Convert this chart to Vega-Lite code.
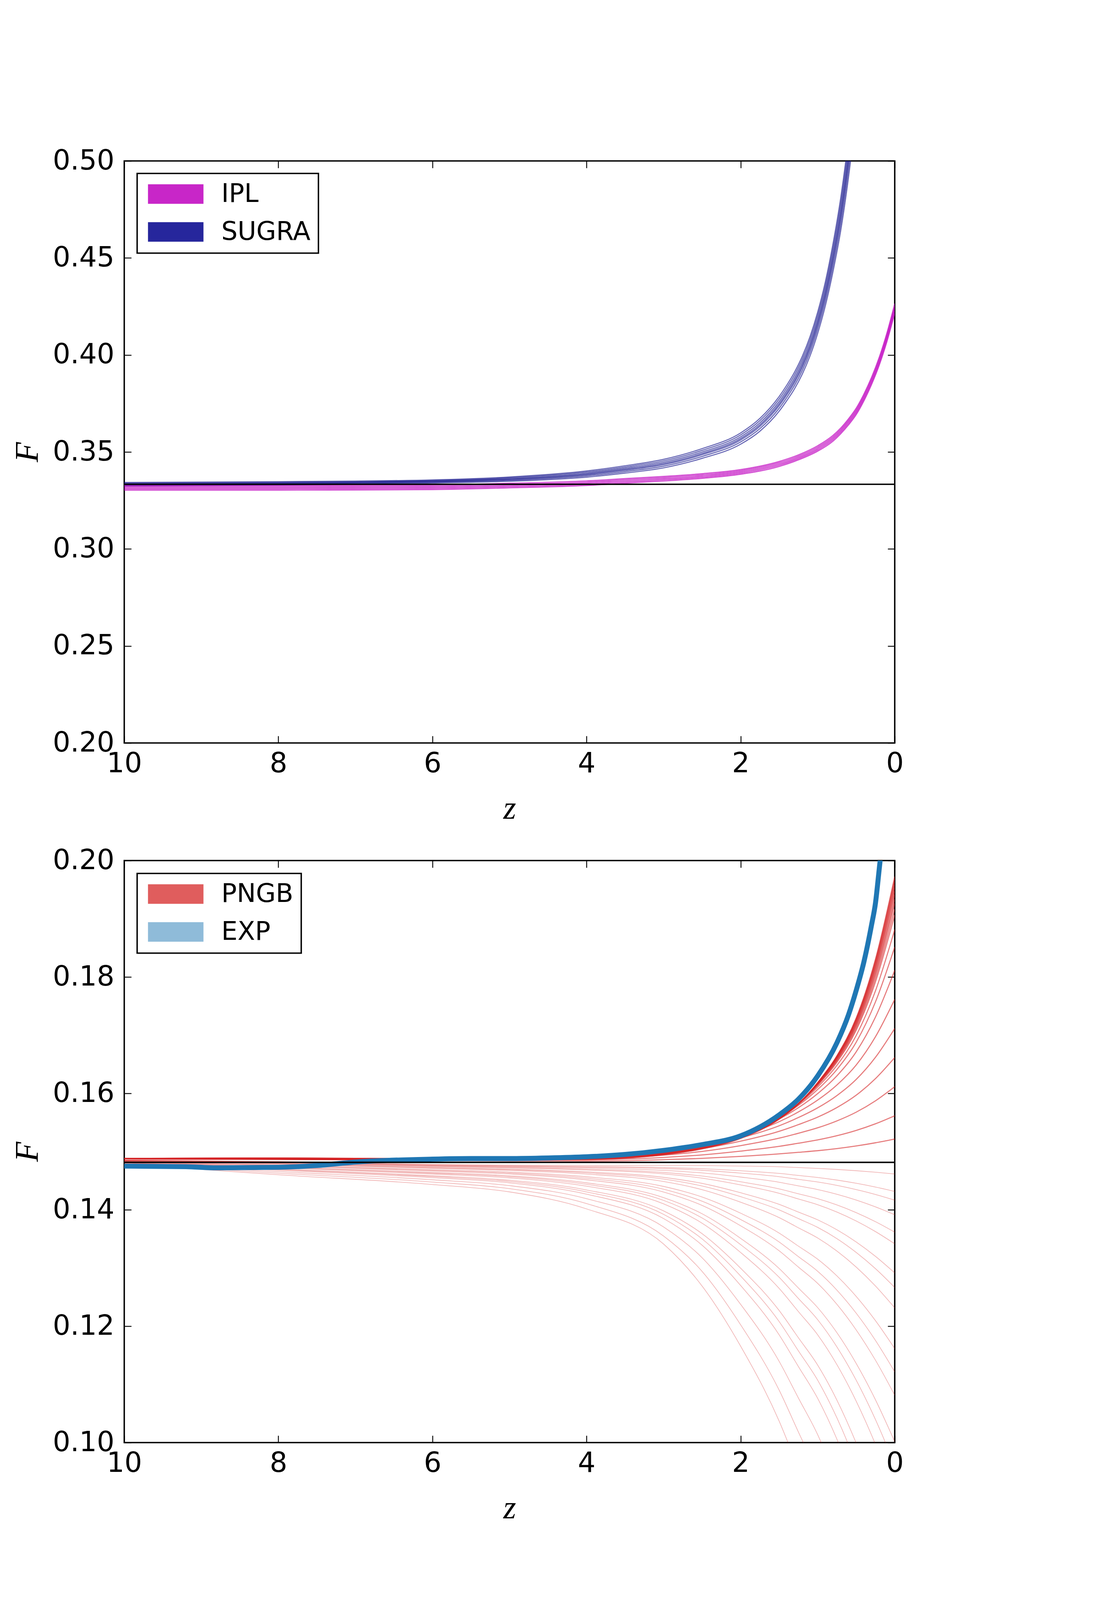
{
"$schema": "https://vega.github.io/schema/vega-lite/v6.json",
"background": "white",
"padding": {"left": 27, "top": 374, "right": 200, "bottom": 100},
"config": {
  "font": "DejaVu Sans",
  "view": {"stroke": "black", "strokeWidth": 3.6},
  "axis": {"domain": false, "grid": false, "ticks": true, "tickColor": "black", "tickWidth": 2.3, "tickSize": -18,
    "labelFont": "DejaVu Sans", "labelFontSize": 71, "labelColor": "black", "labelFlush": false, "labelOverlap": false, "labelBound": false,
    "titleFont": "Liberation Serif", "titleFontStyle": "italic", "titleFontWeight": "normal", "titleFontSize": 84, "titleColor": "black"},
  "legend": {"strokeColor": "black", "strokeWidth": 3.6, "fillColor": "white", "cornerRadius": 0, "padding": 20, "labelLimit": 1000}
},
"datasets": {
"sugra": [
{"m":"S1","z":10,"F":0.3325},{"m":"S1","z":9,"F":0.3327},{"m":"S1","z":8,"F":0.3329},{"m":"S1","z":7,"F":0.3334},{"m":"S1","z":6,"F":0.334},{"m":"S1","z":5,"F":0.3349},{"m":"S1","z":4,"F":0.337},{"m":"S1","z":3.5,"F":0.3391},{"m":"S1","z":3,"F":0.3418},{"m":"S1","z":2.5,"F":0.3467},{"m":"S1","z":2,"F":0.354},{"m":"S1","z":1.75,"F":0.3607},{"m":"S1","z":1.5,"F":0.371},{"m":"S1","z":1.4,"F":0.3765},{"m":"S1","z":1.3,"F":0.3826},{"m":"S1","z":1.2,"F":0.3901},{"m":"S1","z":1.1,"F":0.3994},{"m":"S1","z":1,"F":0.4111},{"m":"S1","z":0.9,"F":0.4254},{"m":"S1","z":0.8,"F":0.4432},{"m":"S1","z":0.7,"F":0.4643},{"m":"S1","z":0.6,"F":0.4915},{"m":"S1","z":0.5,"F":0.525},
{"m":"S2","z":10,"F":0.33286},{"m":"S2","z":9,"F":0.33306},{"m":"S2","z":8,"F":0.33326},{"m":"S2","z":7,"F":0.33372},{"m":"S2","z":6,"F":0.33432},{"m":"S2","z":5,"F":0.33534},{"m":"S2","z":4,"F":0.33764},{"m":"S2","z":3.5,"F":0.33986},{"m":"S2","z":3,"F":0.34268},{"m":"S2","z":2.5,"F":0.3477},{"m":"S2","z":2,"F":0.35516},{"m":"S2","z":1.75,"F":0.36202},{"m":"S2","z":1.5,"F":0.37252},{"m":"S2","z":1.4,"F":0.3781},{"m":"S2","z":1.3,"F":0.38432},{"m":"S2","z":1.2,"F":0.39194},{"m":"S2","z":1.1,"F":0.4014},{"m":"S2","z":1,"F":0.4133},{"m":"S2","z":0.9,"F":0.42788},{"m":"S2","z":0.8,"F":0.44608},{"m":"S2","z":0.7,"F":0.4677},{"m":"S2","z":0.6,"F":0.4955},{"m":"S2","z":0.5,"F":0.5298},
{"m":"S3","z":10,"F":0.33318},{"m":"S3","z":9,"F":0.33338},{"m":"S3","z":8,"F":0.33358},{"m":"S3","z":7,"F":0.334},{"m":"S3","z":6,"F":0.3346},{"m":"S3","z":5,"F":0.33573},{"m":"S3","z":4,"F":0.3382},{"m":"S3","z":3.5,"F":0.34053},{"m":"S3","z":3,"F":0.34345},{"m":"S3","z":2.5,"F":0.34858},{"m":"S3","z":2,"F":0.35618},{"m":"S3","z":1.75,"F":0.36318},{"m":"S3","z":1.5,"F":0.37385},{"m":"S3","z":1.4,"F":0.3795},{"m":"S3","z":1.3,"F":0.38583},{"m":"S3","z":1.2,"F":0.39355},{"m":"S3","z":1.1,"F":0.40315},{"m":"S3","z":1,"F":0.41523},{"m":"S3","z":0.9,"F":0.43005},{"m":"S3","z":0.8,"F":0.4486},{"m":"S3","z":0.7,"F":0.47068},{"m":"S3","z":0.6,"F":0.499},{"m":"S3","z":0.5,"F":0.534},
{"m":"S4","z":10,"F":0.3334},{"m":"S4","z":9,"F":0.3336},{"m":"S4","z":8,"F":0.3338},{"m":"S4","z":7,"F":0.3342},{"m":"S4","z":6,"F":0.3348},{"m":"S4","z":5,"F":0.336},{"m":"S4","z":4,"F":0.3386},{"m":"S4","z":3.5,"F":0.341},{"m":"S4","z":3,"F":0.344},{"m":"S4","z":2.5,"F":0.3492},{"m":"S4","z":2,"F":0.3569},{"m":"S4","z":1.75,"F":0.364},{"m":"S4","z":1.5,"F":0.3748},{"m":"S4","z":1.4,"F":0.3805},{"m":"S4","z":1.3,"F":0.3869},{"m":"S4","z":1.2,"F":0.3947},{"m":"S4","z":1.1,"F":0.4044},{"m":"S4","z":1,"F":0.4166},{"m":"S4","z":0.9,"F":0.4316},{"m":"S4","z":0.8,"F":0.4504},{"m":"S4","z":0.7,"F":0.4728},{"m":"S4","z":0.6,"F":0.5015},{"m":"S4","z":0.5,"F":0.537},
{"m":"S5","z":10,"F":0.33367},{"m":"S5","z":9,"F":0.33387},{"m":"S5","z":8,"F":0.33407},{"m":"S5","z":7,"F":0.33444},{"m":"S5","z":6,"F":0.33504},{"m":"S5","z":5,"F":0.33633},{"m":"S5","z":4,"F":0.33908},{"m":"S5","z":3.5,"F":0.34157},{"m":"S5","z":3,"F":0.34466},{"m":"S5","z":2.5,"F":0.34995},{"m":"S5","z":2,"F":0.35777},{"m":"S5","z":1.75,"F":0.36499},{"m":"S5","z":1.5,"F":0.37594},{"m":"S5","z":1.4,"F":0.3817},{"m":"S5","z":1.3,"F":0.38819},{"m":"S5","z":1.2,"F":0.39608},{"m":"S5","z":1.1,"F":0.4059},{"m":"S5","z":1,"F":0.41825},{"m":"S5","z":0.9,"F":0.43346},{"m":"S5","z":0.8,"F":0.45256},{"m":"S5","z":0.7,"F":0.47535},{"m":"S5","z":0.6,"F":0.5045},{"m":"S5","z":0.5,"F":0.5406},
{"m":"S6","z":10,"F":0.33399},{"m":"S6","z":9,"F":0.33419},{"m":"S6","z":8,"F":0.33439},{"m":"S6","z":7,"F":0.33472},{"m":"S6","z":6,"F":0.33532},{"m":"S6","z":5,"F":0.33672},{"m":"S6","z":4,"F":0.33964},{"m":"S6","z":3.5,"F":0.34224},{"m":"S6","z":3,"F":0.34543},{"m":"S6","z":2.5,"F":0.35083},{"m":"S6","z":2,"F":0.35879},{"m":"S6","z":1.75,"F":0.36615},{"m":"S6","z":1.5,"F":0.37727},{"m":"S6","z":1.4,"F":0.3831},{"m":"S6","z":1.3,"F":0.3897},{"m":"S6","z":1.2,"F":0.39769},{"m":"S6","z":1.1,"F":0.40765},{"m":"S6","z":1,"F":0.42018},{"m":"S6","z":0.9,"F":0.43563},{"m":"S6","z":0.8,"F":0.45508},{"m":"S6","z":0.7,"F":0.47833},{"m":"S6","z":0.6,"F":0.508},{"m":"S6","z":0.5,"F":0.5448},
{"m":"S7","z":10,"F":0.3343},{"m":"S7","z":9,"F":0.3345},{"m":"S7","z":8,"F":0.3347},{"m":"S7","z":7,"F":0.335},{"m":"S7","z":6,"F":0.3356},{"m":"S7","z":5,"F":0.3371},{"m":"S7","z":4,"F":0.3402},{"m":"S7","z":3.5,"F":0.3429},{"m":"S7","z":3,"F":0.3462},{"m":"S7","z":2.5,"F":0.3517},{"m":"S7","z":2,"F":0.3598},{"m":"S7","z":1.75,"F":0.3673},{"m":"S7","z":1.5,"F":0.3786},{"m":"S7","z":1.4,"F":0.3845},{"m":"S7","z":1.3,"F":0.3912},{"m":"S7","z":1.2,"F":0.3993},{"m":"S7","z":1.1,"F":0.4094},{"m":"S7","z":1,"F":0.4221},{"m":"S7","z":0.9,"F":0.4378},{"m":"S7","z":0.8,"F":0.4576},{"m":"S7","z":0.7,"F":0.4813},{"m":"S7","z":0.6,"F":0.5115},{"m":"S7","z":0.5,"F":0.549}
],
"ipl": [
{"m":"I1","z":10,"F":0.3303},{"m":"I1","z":9,"F":0.3303},{"m":"I1","z":8,"F":0.3303},{"m":"I1","z":7,"F":0.3304},{"m":"I1","z":6,"F":0.3306},{"m":"I1","z":5,"F":0.3315},{"m":"I1","z":4,"F":0.3327},{"m":"I1","z":3.5,"F":0.3339},{"m":"I1","z":3,"F":0.335},{"m":"I1","z":2.5,"F":0.3364},{"m":"I1","z":2,"F":0.3385},{"m":"I1","z":1.5,"F":0.3425},{"m":"I1","z":1.25,"F":0.3459},{"m":"I1","z":1,"F":0.3504},{"m":"I1","z":0.8,"F":0.3556},{"m":"I1","z":0.7,"F":0.3594},{"m":"I1","z":0.6,"F":0.3639},{"m":"I1","z":0.5,"F":0.3692},{"m":"I1","z":0.4,"F":0.3763},{"m":"I1","z":0.3,"F":0.3848},{"m":"I1","z":0.2,"F":0.3948},{"m":"I1","z":0.1,"F":0.407},{"m":"I1","z":0,"F":0.4215},
{"m":"I2","z":10,"F":0.3309},{"m":"I2","z":9,"F":0.3309},{"m":"I2","z":8,"F":0.3309},{"m":"I2","z":7,"F":0.331},{"m":"I2","z":6,"F":0.3312},{"m":"I2","z":5,"F":0.3321},{"m":"I2","z":4,"F":0.3333},{"m":"I2","z":3.5,"F":0.3345},{"m":"I2","z":3,"F":0.3356},{"m":"I2","z":2.5,"F":0.337},{"m":"I2","z":2,"F":0.3391},{"m":"I2","z":1.5,"F":0.34315},{"m":"I2","z":1.25,"F":0.34655},{"m":"I2","z":1,"F":0.3511},{"m":"I2","z":0.8,"F":0.35635},{"m":"I2","z":0.7,"F":0.36015},{"m":"I2","z":0.6,"F":0.3647},{"m":"I2","z":0.5,"F":0.37005},{"m":"I2","z":0.4,"F":0.3772},{"m":"I2","z":0.3,"F":0.38575},{"m":"I2","z":0.2,"F":0.39585},{"m":"I2","z":0.1,"F":0.40815},{"m":"I2","z":0,"F":0.42275},
{"m":"I3","z":10,"F":0.3315},{"m":"I3","z":9,"F":0.3315},{"m":"I3","z":8,"F":0.3315},{"m":"I3","z":7,"F":0.3316},{"m":"I3","z":6,"F":0.3318},{"m":"I3","z":5,"F":0.3327},{"m":"I3","z":4,"F":0.3339},{"m":"I3","z":3.5,"F":0.3351},{"m":"I3","z":3,"F":0.3362},{"m":"I3","z":2.5,"F":0.3376},{"m":"I3","z":2,"F":0.3397},{"m":"I3","z":1.5,"F":0.3438},{"m":"I3","z":1.25,"F":0.3472},{"m":"I3","z":1,"F":0.3518},{"m":"I3","z":0.8,"F":0.3571},{"m":"I3","z":0.7,"F":0.3609},{"m":"I3","z":0.6,"F":0.3655},{"m":"I3","z":0.5,"F":0.3709},{"m":"I3","z":0.4,"F":0.3781},{"m":"I3","z":0.3,"F":0.3867},{"m":"I3","z":0.2,"F":0.3969},{"m":"I3","z":0.1,"F":0.4093},{"m":"I3","z":0,"F":0.424},
{"m":"I4","z":10,"F":0.3321},{"m":"I4","z":9,"F":0.3321},{"m":"I4","z":8,"F":0.3321},{"m":"I4","z":7,"F":0.3322},{"m":"I4","z":6,"F":0.3324},{"m":"I4","z":5,"F":0.3333},{"m":"I4","z":4,"F":0.3345},{"m":"I4","z":3.5,"F":0.3357},{"m":"I4","z":3,"F":0.3368},{"m":"I4","z":2.5,"F":0.3382},{"m":"I4","z":2,"F":0.3403},{"m":"I4","z":1.5,"F":0.34445},{"m":"I4","z":1.25,"F":0.34785},{"m":"I4","z":1,"F":0.3525},{"m":"I4","z":0.8,"F":0.35785},{"m":"I4","z":0.7,"F":0.36165},{"m":"I4","z":0.6,"F":0.3663},{"m":"I4","z":0.5,"F":0.37175},{"m":"I4","z":0.4,"F":0.379},{"m":"I4","z":0.3,"F":0.38765},{"m":"I4","z":0.2,"F":0.39795},{"m":"I4","z":0.1,"F":0.41045},{"m":"I4","z":0,"F":0.42525},
{"m":"I5","z":10,"F":0.3327},{"m":"I5","z":9,"F":0.3327},{"m":"I5","z":8,"F":0.3327},{"m":"I5","z":7,"F":0.3328},{"m":"I5","z":6,"F":0.333},{"m":"I5","z":5,"F":0.3339},{"m":"I5","z":4,"F":0.3351},{"m":"I5","z":3.5,"F":0.3363},{"m":"I5","z":3,"F":0.3374},{"m":"I5","z":2.5,"F":0.3388},{"m":"I5","z":2,"F":0.3409},{"m":"I5","z":1.5,"F":0.3451},{"m":"I5","z":1.25,"F":0.3485},{"m":"I5","z":1,"F":0.3532},{"m":"I5","z":0.8,"F":0.3586},{"m":"I5","z":0.7,"F":0.3624},{"m":"I5","z":0.6,"F":0.3671},{"m":"I5","z":0.5,"F":0.3726},{"m":"I5","z":0.4,"F":0.3799},{"m":"I5","z":0.3,"F":0.3886},{"m":"I5","z":0.2,"F":0.399},{"m":"I5","z":0.1,"F":0.4116},{"m":"I5","z":0,"F":0.4265}
],
"pngb": [
{"m":"U1","z":10,"F":0.14875},{"m":"U1","z":8,"F":0.14865},{"m":"U1","z":6,"F":0.14855},{"m":"U1","z":5,"F":0.14855},{"m":"U1","z":4,"F":0.14864},{"m":"U1","z":3,"F":0.14945},{"m":"U1","z":2.5,"F":0.15046},{"m":"U1","z":2,"F":0.15225},{"m":"U1","z":1.5,"F":0.15556},{"m":"U1","z":1.25,"F":0.15817},{"m":"U1","z":1,"F":0.16185},{"m":"U1","z":0.75,"F":0.16646},{"m":"U1","z":0.5,"F":0.17295},{"m":"U1","z":0.25,"F":0.18306},{"m":"U1","z":0,"F":0.19725},
{"m":"U2","z":10,"F":0.14876},{"m":"U2","z":8,"F":0.14867},{"m":"U2","z":6,"F":0.14857},{"m":"U2","z":5,"F":0.14857},{"m":"U2","z":4,"F":0.14868},{"m":"U2","z":3,"F":0.14951},{"m":"U2","z":2.5,"F":0.15053},{"m":"U2","z":2,"F":0.15234},{"m":"U2","z":1.5,"F":0.15563},{"m":"U2","z":1.25,"F":0.1582},{"m":"U2","z":1,"F":0.16181},{"m":"U2","z":0.75,"F":0.16634},{"m":"U2","z":0.5,"F":0.17268},{"m":"U2","z":0.25,"F":0.18254},{"m":"U2","z":0,"F":0.19635},
{"m":"U3","z":10,"F":0.14876},{"m":"U3","z":8,"F":0.14869},{"m":"U3","z":6,"F":0.14859},{"m":"U3","z":5,"F":0.1486},{"m":"U3","z":4,"F":0.14872},{"m":"U3","z":3,"F":0.14957},{"m":"U3","z":2.5,"F":0.15061},{"m":"U3","z":2,"F":0.15243},{"m":"U3","z":1.5,"F":0.1557},{"m":"U3","z":1.25,"F":0.15823},{"m":"U3","z":1,"F":0.16176},{"m":"U3","z":0.75,"F":0.16619},{"m":"U3","z":0.5,"F":0.17238},{"m":"U3","z":0.25,"F":0.18197},{"m":"U3","z":0,"F":0.19535},
{"m":"U4","z":10,"F":0.14877},{"m":"U4","z":8,"F":0.14871},{"m":"U4","z":6,"F":0.14861},{"m":"U4","z":5,"F":0.14863},{"m":"U4","z":4,"F":0.14877},{"m":"U4","z":3,"F":0.14964},{"m":"U4","z":2.5,"F":0.1507},{"m":"U4","z":2,"F":0.15253},{"m":"U4","z":1.5,"F":0.15576},{"m":"U4","z":1.25,"F":0.15825},{"m":"U4","z":1,"F":0.16168},{"m":"U4","z":0.75,"F":0.166},{"m":"U4","z":0.5,"F":0.172},{"m":"U4","z":0.25,"F":0.18126},{"m":"U4","z":0,"F":0.19415},
{"m":"U5","z":10,"F":0.14878},{"m":"U5","z":8,"F":0.14873},{"m":"U5","z":6,"F":0.14864},{"m":"U5","z":5,"F":0.14866},{"m":"U5","z":4,"F":0.14883},{"m":"U5","z":3,"F":0.14972},{"m":"U5","z":2.5,"F":0.1508},{"m":"U5","z":2,"F":0.15265},{"m":"U5","z":1.5,"F":0.15583},{"m":"U5","z":1.25,"F":0.15826},{"m":"U5","z":1,"F":0.16157},{"m":"U5","z":0.75,"F":0.16574},{"m":"U5","z":0.5,"F":0.17152},{"m":"U5","z":0.25,"F":0.18037},{"m":"U5","z":0,"F":0.19265},
{"m":"U6","z":10,"F":0.14878},{"m":"U6","z":8,"F":0.14876},{"m":"U6","z":6,"F":0.14867},{"m":"U6","z":5,"F":0.1487},{"m":"U6","z":4,"F":0.14889},{"m":"U6","z":3,"F":0.14981},{"m":"U6","z":2.5,"F":0.15091},{"m":"U6","z":2,"F":0.15276},{"m":"U6","z":1.5,"F":0.15587},{"m":"U6","z":1.25,"F":0.15822},{"m":"U6","z":1,"F":0.16138},{"m":"U6","z":0.75,"F":0.16535},{"m":"U6","z":0.5,"F":0.17084},{"m":"U6","z":0.25,"F":0.17916},{"m":"U6","z":0,"F":0.19065},
{"m":"U7","z":10,"F":0.14879},{"m":"U7","z":8,"F":0.1488},{"m":"U7","z":6,"F":0.1487},{"m":"U7","z":5,"F":0.14874},{"m":"U7","z":4,"F":0.14896},{"m":"U7","z":3,"F":0.1499},{"m":"U7","z":2.5,"F":0.15101},{"m":"U7","z":2,"F":0.15287},{"m":"U7","z":1.5,"F":0.15589},{"m":"U7","z":1.25,"F":0.15813},{"m":"U7","z":1,"F":0.16109},{"m":"U7","z":0.75,"F":0.16482},{"m":"U7","z":0.5,"F":0.16994},{"m":"U7","z":0.25,"F":0.17762},{"m":"U7","z":0,"F":0.18815},
{"m":"U8","z":10,"F":0.14881},{"m":"U8","z":8,"F":0.14883},{"m":"U8","z":6,"F":0.14874},{"m":"U8","z":5,"F":0.14878},{"m":"U8","z":4,"F":0.14902},{"m":"U8","z":3,"F":0.14998},{"m":"U8","z":2.5,"F":0.1511},{"m":"U8","z":2,"F":0.15294},{"m":"U8","z":1.5,"F":0.15582},{"m":"U8","z":1.25,"F":0.15794},{"m":"U8","z":1,"F":0.16067},{"m":"U8","z":0.75,"F":0.16411},{"m":"U8","z":0.5,"F":0.16879},{"m":"U8","z":0.25,"F":0.17572},{"m":"U8","z":0,"F":0.18515},
{"m":"U9","z":10,"F":0.14882},{"m":"U9","z":8,"F":0.14887},{"m":"U9","z":6,"F":0.14876},{"m":"U9","z":5,"F":0.14882},{"m":"U9","z":4,"F":0.14907},{"m":"U9","z":3,"F":0.15004},{"m":"U9","z":2.5,"F":0.15114},{"m":"U9","z":2,"F":0.15292},{"m":"U9","z":1.5,"F":0.15561},{"m":"U9","z":1.25,"F":0.15754},{"m":"U9","z":1,"F":0.15996},{"m":"U9","z":0.75,"F":0.16302},{"m":"U9","z":0.5,"F":0.16714},{"m":"U9","z":0.25,"F":0.17311},{"m":"U9","z":0,"F":0.18115},
{"m":"U10","z":10,"F":0.14882},{"m":"U10","z":8,"F":0.14889},{"m":"U10","z":6,"F":0.14877},{"m":"U10","z":5,"F":0.14883},{"m":"U10","z":4,"F":0.14909},{"m":"U10","z":3,"F":0.15001},{"m":"U10","z":2.5,"F":0.15106},{"m":"U10","z":2,"F":0.15273},{"m":"U10","z":1.5,"F":0.15513},{"m":"U10","z":1.25,"F":0.15681},{"m":"U10","z":1,"F":0.15885},{"m":"U10","z":0.75,"F":0.16144},{"m":"U10","z":0.5,"F":0.16487},{"m":"U10","z":0.25,"F":0.16973},{"m":"U10","z":0,"F":0.17615},
{"m":"U11","z":10,"F":0.14882},{"m":"U11","z":8,"F":0.1489},{"m":"U11","z":6,"F":0.14876},{"m":"U11","z":5,"F":0.1488},{"m":"U11","z":4,"F":0.14905},{"m":"U11","z":3,"F":0.1499},{"m":"U11","z":2.5,"F":0.15086},{"m":"U11","z":2,"F":0.15235},{"m":"U11","z":1.5,"F":0.15443},{"m":"U11","z":1.25,"F":0.15585},{"m":"U11","z":1,"F":0.15752},{"m":"U11","z":0.75,"F":0.15963},{"m":"U11","z":0.5,"F":0.1624},{"m":"U11","z":0.25,"F":0.1662},{"m":"U11","z":0,"F":0.17115},
{"m":"U12","z":10,"F":0.14882},{"m":"U12","z":8,"F":0.14888},{"m":"U12","z":6,"F":0.14872},{"m":"U12","z":5,"F":0.14875},{"m":"U12","z":4,"F":0.14896},{"m":"U12","z":3,"F":0.14969},{"m":"U12","z":2.5,"F":0.15051},{"m":"U12","z":2,"F":0.15178},{"m":"U12","z":1.5,"F":0.15348},{"m":"U12","z":1.25,"F":0.15463},{"m":"U12","z":1,"F":0.15592},{"m":"U12","z":0.75,"F":0.15757},{"m":"U12","z":0.5,"F":0.15969},{"m":"U12","z":0.25,"F":0.16253},{"m":"U12","z":0,"F":0.16615},
{"m":"U13","z":10,"F":0.14881},{"m":"U13","z":8,"F":0.14884},{"m":"U13","z":6,"F":0.14865},{"m":"U13","z":5,"F":0.14865},{"m":"U13","z":4,"F":0.14881},{"m":"U13","z":3,"F":0.14939},{"m":"U13","z":2.5,"F":0.15003},{"m":"U13","z":2,"F":0.15102},{"m":"U13","z":1.5,"F":0.1523},{"m":"U13","z":1.25,"F":0.15315},{"m":"U13","z":1,"F":0.15408},{"m":"U13","z":0.75,"F":0.15527},{"m":"U13","z":0.5,"F":0.15677},{"m":"U13","z":0.25,"F":0.15872},{"m":"U13","z":0,"F":0.16115},
{"m":"U14","z":10,"F":0.14879},{"m":"U14","z":8,"F":0.14878},{"m":"U14","z":6,"F":0.14856},{"m":"U14","z":5,"F":0.14853},{"m":"U14","z":4,"F":0.1486},{"m":"U14","z":3,"F":0.14899},{"m":"U14","z":2.5,"F":0.14942},{"m":"U14","z":2,"F":0.15007},{"m":"U14","z":1.5,"F":0.15089},{"m":"U14","z":1.25,"F":0.15143},{"m":"U14","z":1,"F":0.152},{"m":"U14","z":0.75,"F":0.15272},{"m":"U14","z":0.5,"F":0.15363},{"m":"U14","z":0.25,"F":0.15477},{"m":"U14","z":0,"F":0.15615},
{"m":"U15","z":10,"F":0.14877},{"m":"U15","z":8,"F":0.14872},{"m":"U15","z":6,"F":0.14846},{"m":"U15","z":5,"F":0.1484},{"m":"U15","z":4,"F":0.14839},{"m":"U15","z":3,"F":0.1486},{"m":"U15","z":2.5,"F":0.14883},{"m":"U15","z":2,"F":0.14917},{"m":"U15","z":1.5,"F":0.1496},{"m":"U15","z":1.25,"F":0.14987},{"m":"U15","z":1,"F":0.15015},{"m":"U15","z":0.75,"F":0.15051},{"m":"U15","z":0.5,"F":0.15096},{"m":"U15","z":0.25,"F":0.15151},{"m":"U15","z":0,"F":0.15215},
{"m":"U16","z":10,"F":0.14875},{"m":"U16","z":8,"F":0.14866},{"m":"U16","z":6,"F":0.14856},{"m":"U16","z":5,"F":0.14856},{"m":"U16","z":4,"F":0.14866},{"m":"U16","z":3,"F":0.14948},{"m":"U16","z":2.5,"F":0.15049},{"m":"U16","z":2,"F":0.15229},{"m":"U16","z":1.5,"F":0.15559},{"m":"U16","z":1.25,"F":0.15818},{"m":"U16","z":1,"F":0.16183},{"m":"U16","z":0.75,"F":0.16641},{"m":"U16","z":0.5,"F":0.17283},{"m":"U16","z":0.25,"F":0.18283},{"m":"U16","z":0,"F":0.19685},
{"m":"U17","z":10,"F":0.14876},{"m":"U17","z":8,"F":0.14868},{"m":"U17","z":6,"F":0.14858},{"m":"U17","z":5,"F":0.14858},{"m":"U17","z":4,"F":0.1487},{"m":"U17","z":3,"F":0.14954},{"m":"U17","z":2.5,"F":0.15057},{"m":"U17","z":2,"F":0.15239},{"m":"U17","z":1.5,"F":0.15566},{"m":"U17","z":1.25,"F":0.15822},{"m":"U17","z":1,"F":0.16179},{"m":"U17","z":0.75,"F":0.16626},{"m":"U17","z":0.5,"F":0.17253},{"m":"U17","z":0.25,"F":0.18225},{"m":"U17","z":0,"F":0.19585},
{"m":"U18","z":10,"F":0.14876},{"m":"U18","z":8,"F":0.1487},{"m":"U18","z":6,"F":0.1486},{"m":"U18","z":5,"F":0.14861},{"m":"U18","z":4,"F":0.14875},{"m":"U18","z":3,"F":0.14961},{"m":"U18","z":2.5,"F":0.15066},{"m":"U18","z":2,"F":0.15248},{"m":"U18","z":1.5,"F":0.15573},{"m":"U18","z":1.25,"F":0.15824},{"m":"U18","z":1,"F":0.16172},{"m":"U18","z":0.75,"F":0.1661},{"m":"U18","z":0.5,"F":0.17219},{"m":"U18","z":0.25,"F":0.18161},{"m":"U18","z":0,"F":0.19475},
{"m":"U19","z":10,"F":0.14877},{"m":"U19","z":8,"F":0.14872},{"m":"U19","z":6,"F":0.14862},{"m":"U19","z":5,"F":0.14864},{"m":"U19","z":4,"F":0.1488},{"m":"U19","z":3,"F":0.14968},{"m":"U19","z":2.5,"F":0.15075},{"m":"U19","z":2,"F":0.15259},{"m":"U19","z":1.5,"F":0.1558},{"m":"U19","z":1.25,"F":0.15825},{"m":"U19","z":1,"F":0.16163},{"m":"U19","z":0.75,"F":0.16586},{"m":"U19","z":0.5,"F":0.17175},{"m":"U19","z":0.25,"F":0.18079},{"m":"U19","z":0,"F":0.19335},
{"m":"U20","z":10,"F":0.14878},{"m":"U20","z":8,"F":0.14875},{"m":"U20","z":6,"F":0.14865},{"m":"U20","z":5,"F":0.14868},{"m":"U20","z":4,"F":0.14886},{"m":"U20","z":3,"F":0.14977},{"m":"U20","z":2.5,"F":0.15086},{"m":"U20","z":2,"F":0.15271},{"m":"U20","z":1.5,"F":0.15586},{"m":"U20","z":1.25,"F":0.15824},{"m":"U20","z":1,"F":0.16148},{"m":"U20","z":0.75,"F":0.16555},{"m":"U20","z":0.5,"F":0.17118},{"m":"U20","z":0.25,"F":0.17977},{"m":"U20","z":0,"F":0.19165},
{"m":"L1","z":10,"F":0.14854},{"m":"L1","z":8,"F":0.14831},{"m":"L1","z":6,"F":0.14779},{"m":"L1","z":5,"F":0.14767},{"m":"L1","z":4,"F":0.14762},{"m":"L1","z":3,"F":0.14761},{"m":"L1","z":2.5,"F":0.14759},{"m":"L1","z":2,"F":0.14751},{"m":"L1","z":1.5,"F":0.14739},{"m":"L1","z":1.25,"F":0.14725},{"m":"L1","z":1,"F":0.14711},{"m":"L1","z":0.75,"F":0.14693},{"m":"L1","z":0.5,"F":0.14671},{"m":"L1","z":0.25,"F":0.14645},{"m":"L1","z":0,"F":0.14615},
{"m":"L2","z":10,"F":0.14852},{"m":"L2","z":8,"F":0.14825},{"m":"L2","z":6,"F":0.1477},{"m":"L2","z":5,"F":0.14755},{"m":"L2","z":4,"F":0.14743},{"m":"L2","z":3,"F":0.14725},{"m":"L2","z":2.5,"F":0.14705},{"m":"L2","z":2,"F":0.1467},{"m":"L2","z":1.5,"F":0.14625},{"m":"L2","z":1.25,"F":0.1459},{"m":"L2","z":1,"F":0.14555},{"m":"L2","z":0.75,"F":0.1451},{"m":"L2","z":0.5,"F":0.14455},{"m":"L2","z":0.25,"F":0.1439},{"m":"L2","z":0,"F":0.14315},
{"m":"L3","z":10,"F":0.1485},{"m":"L3","z":8,"F":0.14817},{"m":"L3","z":6,"F":0.14758},{"m":"L3","z":5,"F":0.14739},{"m":"L3","z":4,"F":0.14717},{"m":"L3","z":3,"F":0.14677},{"m":"L3","z":2.5,"F":0.14633},{"m":"L3","z":2,"F":0.14562},{"m":"L3","z":1.5,"F":0.14473},{"m":"L3","z":1.25,"F":0.1441},{"m":"L3","z":1,"F":0.14347},{"m":"L3","z":0.75,"F":0.14266},{"m":"L3","z":0.5,"F":0.14167},{"m":"L3","z":0.25,"F":0.1405},{"m":"L3","z":0,"F":0.13915},
{"m":"L4","z":10,"F":0.14847},{"m":"L4","z":8,"F":0.14807},{"m":"L4","z":6,"F":0.14743},{"m":"L4","z":5,"F":0.14719},{"m":"L4","z":4,"F":0.14684},{"m":"L4","z":3,"F":0.14617},{"m":"L4","z":2.5,"F":0.14543},{"m":"L4","z":2,"F":0.14427},{"m":"L4","z":1.5,"F":0.14283},{"m":"L4","z":1.25,"F":0.14185},{"m":"L4","z":1,"F":0.14087},{"m":"L4","z":0.75,"F":0.13961},{"m":"L4","z":0.5,"F":0.13807},{"m":"L4","z":0.25,"F":0.13625},{"m":"L4","z":0,"F":0.13415},
{"m":"L5","z":10,"F":0.14844},{"m":"L5","z":8,"F":0.14797},{"m":"L5","z":6,"F":0.14728},{"m":"L5","z":5,"F":0.14699},{"m":"L5","z":4,"F":0.14652},{"m":"L5","z":3,"F":0.14557},{"m":"L5","z":2.5,"F":0.14453},{"m":"L5","z":2,"F":0.14292},{"m":"L5","z":1.5,"F":0.14093},{"m":"L5","z":1.25,"F":0.1396},{"m":"L5","z":1,"F":0.13827},{"m":"L5","z":0.75,"F":0.13656},{"m":"L5","z":0.5,"F":0.13447},{"m":"L5","z":0.25,"F":0.132},{"m":"L5","z":0,"F":0.12915},
{"m":"L6","z":10,"F":0.1484},{"m":"L6","z":8,"F":0.14785},{"m":"L6","z":6,"F":0.1471},{"m":"L6","z":5,"F":0.14675},{"m":"L6","z":4,"F":0.14613},{"m":"L6","z":3,"F":0.14485},{"m":"L6","z":2.5,"F":0.14345},{"m":"L6","z":2,"F":0.1413},{"m":"L6","z":1.5,"F":0.13865},{"m":"L6","z":1.25,"F":0.1369},{"m":"L6","z":1,"F":0.13515},{"m":"L6","z":0.75,"F":0.1329},{"m":"L6","z":0.5,"F":0.13015},{"m":"L6","z":0.25,"F":0.1269},{"m":"L6","z":0,"F":0.12315},
{"m":"L7","z":10,"F":0.14836},{"m":"L7","z":8,"F":0.14771},{"m":"L7","z":6,"F":0.14689},{"m":"L7","z":5,"F":0.14647},{"m":"L7","z":4,"F":0.14567},{"m":"L7","z":3,"F":0.14401},{"m":"L7","z":2.5,"F":0.14219},{"m":"L7","z":2,"F":0.13941},{"m":"L7","z":1.5,"F":0.13599},{"m":"L7","z":1.25,"F":0.13375},{"m":"L7","z":1,"F":0.13151},{"m":"L7","z":0.75,"F":0.12863},{"m":"L7","z":0.5,"F":0.12511},{"m":"L7","z":0.25,"F":0.12095},{"m":"L7","z":0,"F":0.11615},
{"m":"L8","z":10,"F":0.14831},{"m":"L8","z":8,"F":0.14755},{"m":"L8","z":6,"F":0.14665},{"m":"L8","z":5,"F":0.14615},{"m":"L8","z":4,"F":0.14515},{"m":"L8","z":3,"F":0.14305},{"m":"L8","z":2.5,"F":0.14075},{"m":"L8","z":2,"F":0.13725},{"m":"L8","z":1.5,"F":0.13295},{"m":"L8","z":1.25,"F":0.13015},{"m":"L8","z":1,"F":0.12735},{"m":"L8","z":0.75,"F":0.12375},{"m":"L8","z":0.5,"F":0.11935},{"m":"L8","z":0.25,"F":0.11415},{"m":"L8","z":0,"F":0.10815},
{"m":"L9","z":10,"F":0.14826},{"m":"L9","z":8,"F":0.14739},{"m":"L9","z":6,"F":0.14641},{"m":"L9","z":5,"F":0.14583},{"m":"L9","z":4,"F":0.14463},{"m":"L9","z":3,"F":0.14209},{"m":"L9","z":2.5,"F":0.13931},{"m":"L9","z":2,"F":0.13509},{"m":"L9","z":1.5,"F":0.12991},{"m":"L9","z":1.25,"F":0.12655},{"m":"L9","z":1,"F":0.12319},{"m":"L9","z":0.75,"F":0.11887},{"m":"L9","z":0.5,"F":0.11359},{"m":"L9","z":0.25,"F":0.10735},{"m":"L9","z":0,"F":0.10015},
{"m":"L10","z":10,"F":0.14821},{"m":"L10","z":8,"F":0.14721},{"m":"L10","z":6,"F":0.14614},{"m":"L10","z":5,"F":0.14547},{"m":"L10","z":4,"F":0.14405},{"m":"L10","z":3,"F":0.14101},{"m":"L10","z":2.5,"F":0.13769},{"m":"L10","z":2,"F":0.13266},{"m":"L10","z":1.5,"F":0.12649},{"m":"L10","z":1.25,"F":0.1225},{"m":"L10","z":1,"F":0.11851},{"m":"L10","z":0.75,"F":0.11338},{"m":"L10","z":0.5,"F":0.10711},{"m":"L10","z":0.25,"F":0.0997},{"m":"L10","z":0,"F":0.09115},
{"m":"L11","z":10,"F":0.14815},{"m":"L11","z":8,"F":0.14701},{"m":"L11","z":6,"F":0.14584},{"m":"L11","z":5,"F":0.14507},{"m":"L11","z":4,"F":0.1434},{"m":"L11","z":3,"F":0.13981},{"m":"L11","z":2.5,"F":0.13589},{"m":"L11","z":2,"F":0.12996},{"m":"L11","z":1.5,"F":0.12269},{"m":"L11","z":1.25,"F":0.118},{"m":"L11","z":1,"F":0.11331},{"m":"L11","z":0.75,"F":0.10728},{"m":"L11","z":0.5,"F":0.09991},{"m":"L11","z":0.25,"F":0.0912},{"m":"L11","z":0,"F":0.08115},
{"m":"L12","z":10,"F":0.14808},{"m":"L12","z":8,"F":0.14679},{"m":"L12","z":6,"F":0.14551},{"m":"L12","z":5,"F":0.14463},{"m":"L12","z":4,"F":0.14268},{"m":"L12","z":3,"F":0.13849},{"m":"L12","z":2.5,"F":0.13391},{"m":"L12","z":2,"F":0.12699},{"m":"L12","z":1.5,"F":0.11851},{"m":"L12","z":1.25,"F":0.11305},{"m":"L12","z":1,"F":0.10759},{"m":"L12","z":0.75,"F":0.10057},{"m":"L12","z":0.5,"F":0.09199},{"m":"L12","z":0.25,"F":0.08185},{"m":"L12","z":0,"F":0.07015},
{"m":"L13","z":10,"F":0.14801},{"m":"L13","z":8,"F":0.14655},{"m":"L13","z":6,"F":0.14515},{"m":"L13","z":5,"F":0.14415},{"m":"L13","z":4,"F":0.1419},{"m":"L13","z":3,"F":0.13705},{"m":"L13","z":2.5,"F":0.13175},{"m":"L13","z":2,"F":0.12375},{"m":"L13","z":1.5,"F":0.11395},{"m":"L13","z":1.25,"F":0.10765},{"m":"L13","z":1,"F":0.10135},{"m":"L13","z":0.75,"F":0.09325},{"m":"L13","z":0.5,"F":0.08335},{"m":"L13","z":0.25,"F":0.07165},{"m":"L13","z":0,"F":0.05815},
{"m":"L14","z":10,"F":0.14793},{"m":"L14","z":8,"F":0.14629},{"m":"L14","z":6,"F":0.14476},{"m":"L14","z":5,"F":0.14363},{"m":"L14","z":4,"F":0.14106},{"m":"L14","z":3,"F":0.13549},{"m":"L14","z":2.5,"F":0.12941},{"m":"L14","z":2,"F":0.12024},{"m":"L14","z":1.5,"F":0.10901},{"m":"L14","z":1.25,"F":0.1018},{"m":"L14","z":1,"F":0.09459},{"m":"L14","z":0.75,"F":0.08532},{"m":"L14","z":0.5,"F":0.07399},{"m":"L14","z":0.25,"F":0.0606},{"m":"L14","z":0,"F":0.04515},
{"m":"L15","z":10,"F":0.14785},{"m":"L15","z":8,"F":0.14601},{"m":"L15","z":6,"F":0.14434},{"m":"L15","z":5,"F":0.14307},{"m":"L15","z":4,"F":0.14015},{"m":"L15","z":3,"F":0.13411},{"m":"L15","z":2.5,"F":0.12689},{"m":"L15","z":2,"F":0.11656},{"m":"L15","z":1.5,"F":0.10369},{"m":"L15","z":1.25,"F":0.0955},{"m":"L15","z":1,"F":0.08731},{"m":"L15","z":0.75,"F":0.07678},{"m":"L15","z":0.5,"F":0.06391},{"m":"L15","z":0.25,"F":0.0487},{"m":"L15","z":0,"F":0.03115},
{"m":"L16","z":10,"F":0.14851},{"m":"L16","z":8,"F":0.14822},{"m":"L16","z":6,"F":0.14766},{"m":"L16","z":5,"F":0.14749},{"m":"L16","z":4,"F":0.14733},{"m":"L16","z":3,"F":0.14707},{"m":"L16","z":2.5,"F":0.14678},{"m":"L16","z":2,"F":0.1463},{"m":"L16","z":1.5,"F":0.14568},{"m":"L16","z":1.25,"F":0.14523},{"m":"L16","z":1,"F":0.14477},{"m":"L16","z":0.75,"F":0.14419},{"m":"L16","z":0.5,"F":0.14347},{"m":"L16","z":0.25,"F":0.14263},{"m":"L16","z":0,"F":0.14165},
{"m":"L17","z":10,"F":0.14848},{"m":"L17","z":8,"F":0.14811},{"m":"L17","z":6,"F":0.14749},{"m":"L17","z":5,"F":0.14727},{"m":"L17","z":4,"F":0.14697},{"m":"L17","z":3,"F":0.14641},{"m":"L17","z":2.5,"F":0.14579},{"m":"L17","z":2,"F":0.14481},{"m":"L17","z":1.5,"F":0.14359},{"m":"L17","z":1.25,"F":0.14275},{"m":"L17","z":1,"F":0.14191},{"m":"L17","z":0.75,"F":0.14083},{"m":"L17","z":0.5,"F":0.13951},{"m":"L17","z":0.25,"F":0.13795},{"m":"L17","z":0,"F":0.13615},
{"m":"L18","z":10,"F":0.14842},{"m":"L18","z":8,"F":0.14792},{"m":"L18","z":6,"F":0.14721},{"m":"L18","z":5,"F":0.14689},{"m":"L18","z":4,"F":0.14635},{"m":"L18","z":3,"F":0.14527},{"m":"L18","z":2.5,"F":0.14408},{"m":"L18","z":2,"F":0.14225},{"m":"L18","z":1.5,"F":0.13998},{"m":"L18","z":1.25,"F":0.13848},{"m":"L18","z":1,"F":0.13697},{"m":"L18","z":0.75,"F":0.13504},{"m":"L18","z":0.5,"F":0.13267},{"m":"L18","z":0.25,"F":0.12988},{"m":"L18","z":0,"F":0.12665},
{"m":"L19","z":10,"F":0.14833},{"m":"L19","z":8,"F":0.14763},{"m":"L19","z":6,"F":0.14677},{"m":"L19","z":5,"F":0.14631},{"m":"L19","z":4,"F":0.14541},{"m":"L19","z":3,"F":0.14353},{"m":"L19","z":2.5,"F":0.14147},{"m":"L19","z":2,"F":0.13833},{"m":"L19","z":1.5,"F":0.13447},{"m":"L19","z":1.25,"F":0.13195},{"m":"L19","z":1,"F":0.12943},{"m":"L19","z":0.75,"F":0.12619},{"m":"L19","z":0.5,"F":0.12223},{"m":"L19","z":0.25,"F":0.11755},{"m":"L19","z":0,"F":0.11215},
{"m":"L20","z":10,"F":0.14824},{"m":"L20","z":8,"F":0.14731},{"m":"L20","z":6,"F":0.14629},{"m":"L20","z":5,"F":0.14567},{"m":"L20","z":4,"F":0.14437},{"m":"L20","z":3,"F":0.14161},{"m":"L20","z":2.5,"F":0.13859},{"m":"L20","z":2,"F":0.13401},{"m":"L20","z":1.5,"F":0.12839},{"m":"L20","z":1.25,"F":0.12475},{"m":"L20","z":1,"F":0.12111},{"m":"L20","z":0.75,"F":0.11643},{"m":"L20","z":0.5,"F":0.11071},{"m":"L20","z":0.25,"F":0.10395},{"m":"L20","z":0,"F":0.09615},
{"m":"L21","z":10,"F":0.14812},{"m":"L21","z":8,"F":0.14691},{"m":"L21","z":6,"F":0.14569},{"m":"L21","z":5,"F":0.14487},{"m":"L21","z":4,"F":0.14307},{"m":"L21","z":3,"F":0.13921},{"m":"L21","z":2.5,"F":0.13499},{"m":"L21","z":2,"F":0.12861},{"m":"L21","z":1.5,"F":0.12079},{"m":"L21","z":1.25,"F":0.11575},{"m":"L21","z":1,"F":0.11071},{"m":"L21","z":0.75,"F":0.10423},{"m":"L21","z":0.5,"F":0.09631},{"m":"L21","z":0.25,"F":0.08695},{"m":"L21","z":0,"F":0.07615}
],
"exp": [
{"z":10,"F":0.1475},{"z":9.2,"F":0.1474},{"z":8.8,"F":0.1472},{"z":8,"F":0.1473},{"z":7.5,"F":0.1476},{"z":7,"F":0.1482},{"z":6,"F":0.1487},{"z":5.5,"F":0.1488},{"z":5,"F":0.1488},{"z":4.5,"F":0.1489},{"z":4,"F":0.1491},{"z":3.5,"F":0.1495},{"z":3,"F":0.1502},{"z":2.5,"F":0.1512},{"z":2,"F":0.1527},{"z":1.5,"F":0.1563},{"z":1.25,"F":0.159},{"z":1,"F":0.163},{"z":0.75,"F":0.1687},{"z":0.6,"F":0.1735},{"z":0.5,"F":0.1777},{"z":0.4,"F":0.1826},{"z":0.3,"F":0.189},{"z":0.25,"F":0.1927},{"z":0.2,"F":0.1987},{"z":0.1,"F":0.211}
]
},
"spacing": 51,
"resolve": {"scale": {"x": "independent", "y": "independent", "fill": "independent"}, "legend": {"fill": "independent"}},
"vconcat": [
{
  "width": 1972, "height": 1490,
  "layer": [
    {"data": {"name": "sugra"},
     "mark": {"type": "line", "color": "#1a1a8f", "opacity": 0.65, "strokeWidth": 2.7, "clip": true, "interpolate": "monotone"},
     "encoding": {
       "x": {"field": "z", "type": "quantitative", "scale": {"domain": [0, 10], "reverse": true, "nice": false, "zero": false},
             "axis": {"orient": "bottom", "values": [0, 2, 4, 6, 8, 10], "format": "d", "title": "z", "labelPadding": 36, "titleX": 986, "titleY": 168, "titleBaseline": "middle", "titleAlign": "center"}},
       "y": {"field": "F", "type": "quantitative", "scale": {"domain": [0.2, 0.5], "nice": false, "zero": false},
             "axis": {"orient": "left", "values": [0.2, 0.25, 0.3, 0.35, 0.4, 0.45, 0.5], "format": ".2f", "title": "F", "labelPadding": 43.5, "titleX": -247, "titleY": 745, "titleAngle": 270, "titleBaseline": "middle", "titleAlign": "center"}},
       "detail": {"field": "m"},
       "order": {"field": "z", "type": "quantitative", "sort": "descending"}
     }},
    {"data": {"name": "ipl"},
     "mark": {"type": "line", "color": "#bf00bf", "opacity": 0.7, "strokeWidth": 2.7, "clip": true, "interpolate": "monotone"},
     "encoding": {
       "x": {"field": "z", "type": "quantitative", "axis": null},
       "y": {"field": "F", "type": "quantitative", "axis": null},
       "detail": {"field": "m"},
       "order": {"field": "z", "type": "quantitative", "sort": "descending"}
     }},
    {"data": {"values": [{}]},
     "mark": {"type": "rule", "color": "black", "strokeWidth": 3.6},
     "encoding": {"y": {"datum": 0.333333, "type": "quantitative", "axis": null}}},
    {"data": {"name": "ipl"},
     "mark": {"type": "point", "opacity": 0, "clip": true},
     "encoding": {
       "x": {"field": "z", "type": "quantitative", "axis": {"orient": "top", "labels": false, "title": null, "values": [0, 2, 4, 6, 8, 10]}},
       "y": {"field": "F", "type": "quantitative", "axis": {"orient": "right", "labels": false, "title": null, "values": [0.2, 0.25, 0.3, 0.35, 0.4, 0.45, 0.5]}}
     }},
    {"data": {"values": [{"s": "IPL"}, {"s": "SUGRA"}]},
     "mark": {"type": "square", "opacity": 0, "filled": true},
     "encoding": {
       "fill": {"field": "s", "type": "nominal", "scale": {"domain": ["IPL", "SUGRA"], "range": ["#c826c8", "#26269c"]},
                "legend": {"title": null, "orient": "none", "legendX": 33, "legendY": 32, "direction": "vertical",
                           "symbolType": "M-1,-1H4.68V1H-1Z", "symbolSize": 2500, "symbolStrokeWidth": 0, "symbolOpacity": 1,
                           "labelFont": "DejaVu Sans", "labelFontSize": 65.5, "labelColor": "black", "labelOffset": 130, "labelLimit": 1000, "rowPadding": 30,
                           "padding": 20, "strokeColor": "black", "fillColor": "white", "cornerRadius": 0}}
     }}
  ],
  "resolve": {"axis": {"x": "independent", "y": "independent"}}
},
{
  "width": 1972, "height": 1490,
  "layer": [
    {"data": {"name": "pngb"},
     "transform": [{"filter": "test(/^L/, datum.m)"}],
     "mark": {"type": "line", "color": "#d62728", "opacity": 0.33, "strokeWidth": 1.8, "clip": true, "interpolate": "monotone"},
     "encoding": {
       "x": {"field": "z", "type": "quantitative", "scale": {"domain": [0, 10], "reverse": true, "nice": false, "zero": false},
             "axis": {"orient": "bottom", "values": [0, 2, 4, 6, 8, 10], "format": "d", "title": "z", "labelPadding": 36, "titleX": 986, "titleY": 168, "titleBaseline": "middle", "titleAlign": "center"}},
       "y": {"field": "F", "type": "quantitative", "scale": {"domain": [0.1, 0.2], "nice": false, "zero": false},
             "axis": {"orient": "left", "values": [0.1, 0.12, 0.14, 0.16, 0.18, 0.2], "format": ".2f", "title": "F", "labelPadding": 43.5, "titleX": -247, "titleY": 745, "titleAngle": 270, "titleBaseline": "middle", "titleAlign": "center"}},
       "detail": {"field": "m"},
       "order": {"field": "z", "type": "quantitative", "sort": "descending"}
     }},
    {"data": {"name": "pngb"},
     "transform": [{"filter": "test(/^U/, datum.m)"}],
     "mark": {"type": "line", "color": "#d62728", "opacity": 0.6, "strokeWidth": 2.8, "clip": true, "interpolate": "monotone"},
     "encoding": {
       "x": {"field": "z", "type": "quantitative", "axis": null},
       "y": {"field": "F", "type": "quantitative", "axis": null},
       "detail": {"field": "m"},
       "order": {"field": "z", "type": "quantitative", "sort": "descending"}
     }},
    {"data": {"name": "exp"},
     "mark": {"type": "line", "color": "#1f77b4", "opacity": 1, "strokeWidth": 12.7, "clip": true, "interpolate": "monotone"},
     "encoding": {
       "x": {"field": "z", "type": "quantitative", "axis": null},
       "y": {"field": "F", "type": "quantitative", "axis": null},
       "order": {"field": "z", "type": "quantitative", "sort": "descending"}
     }},
    {"data": {"values": [{}]},
     "mark": {"type": "rule", "color": "black", "strokeWidth": 3.6},
     "encoding": {"y": {"datum": 0.148148, "type": "quantitative", "axis": null}}},
    {"data": {"name": "exp"},
     "transform": [{"filter": "datum.F <= 0.2"}],
     "mark": {"type": "point", "opacity": 0, "clip": true},
     "encoding": {
       "x": {"field": "z", "type": "quantitative", "axis": {"orient": "top", "labels": false, "title": null, "values": [0, 2, 4, 6, 8, 10]}},
       "y": {"field": "F", "type": "quantitative", "axis": {"orient": "right", "labels": false, "title": null, "values": [0.1, 0.12, 0.14, 0.16, 0.18, 0.2]}}
     }},
    {"data": {"values": [{"s": "PNGB"}, {"s": "EXP"}]},
     "mark": {"type": "square", "opacity": 0, "filled": true},
     "encoding": {
       "fill": {"field": "s", "type": "nominal", "scale": {"domain": ["PNGB", "EXP"], "range": ["#e05d5d", "#8fbbd9"]},
                "legend": {"title": null, "orient": "none", "legendX": 33, "legendY": 33, "direction": "vertical",
                           "symbolType": "M-1,-1H4.68V1H-1Z", "symbolSize": 2500, "symbolStrokeWidth": 0, "symbolOpacity": 1,
                           "labelFont": "DejaVu Sans", "labelFontSize": 65.5, "labelColor": "black", "labelOffset": 130, "labelLimit": 1000, "rowPadding": 30,
                           "padding": 20, "strokeColor": "black", "fillColor": "white", "cornerRadius": 0}}
     }}
  ],
  "resolve": {"axis": {"x": "independent", "y": "independent"}}
}
]
}
